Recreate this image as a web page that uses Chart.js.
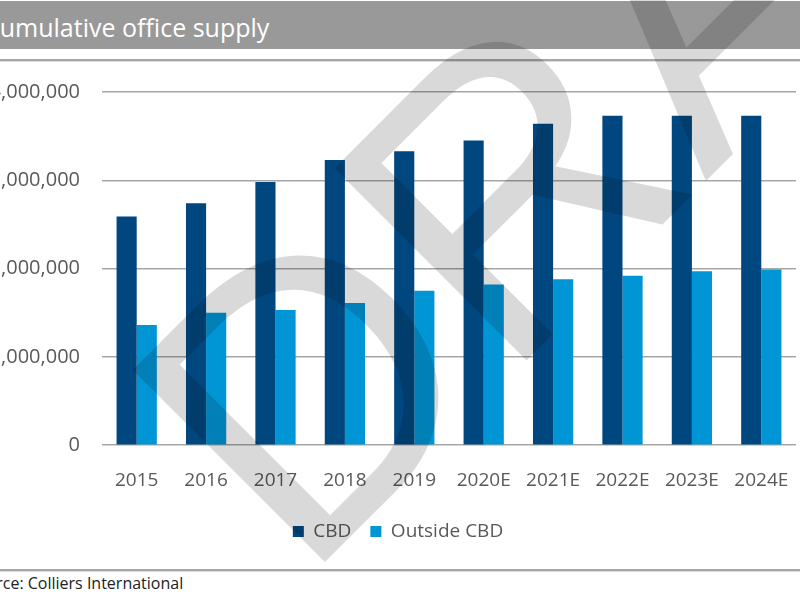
<!DOCTYPE html>
<html><head><meta charset="utf-8">
<script src="https://cdn.jsdelivr.net/npm/chart.js@4"></script>
<style>
html,body{margin:0;padding:0;width:800px;height:600px;overflow:hidden;background:#fff;font-family:"Open Sans",sans-serif}
#band{position:absolute;left:0;top:1px;width:800px;height:48px;background:#999999;overflow:hidden}
#title{position:absolute;left:-16px;top:9px;color:#fff;font-size:25px;white-space:nowrap;line-height:normal}
#line1{position:absolute;left:0;top:59px;width:800px;height:2px;background:#a6a6a6}
#line1b{position:absolute;left:0;top:61px;width:800px;height:1px;background:#dcdcdc}
#line2{position:absolute;left:0;top:569px;width:800px;height:2px;background:#a6a6a6}
#line2b{position:absolute;left:0;top:571px;width:800px;height:1px;background:#dcdcdc}
#source{position:absolute;left:-32px;top:572px;font-size:16px;color:#222;white-space:nowrap;line-height:normal}
#wrap{position:absolute;left:0;top:0;width:800px;height:600px;mix-blend-mode:multiply}
</style></head>
<body>
<div id="band"><div id="title">Cumulative office supply</div></div>
<div id="line1"></div><div id="line1b"></div>
<div id="line2"></div><div id="line2b"></div>
<div id="source">Source: Colliers International</div>
<div id="wrap"><canvas id="c" width="800" height="600"></canvas></div>
<script>
const categories = ["2015","2016","2017","2018","2019","2020E","2021E","2022E","2023E","2024E"];
const cbdValues = [2590000,2740000,2980000,3230000,3330000,3450000,3640000,3730000,3730000,3730000];
const outsideValues = [1360000,1500000,1530000,1610000,1750000,1820000,1880000,1920000,1970000,1990000];
const seriesNames = ["CBD","Outside CBD"];
const yTicks = [0,1000000,2000000,3000000,4000000];

const watermark = {
  id:'watermark',
  afterDraw(chart){
    const ctx = chart.ctx;
    ctx.save();
    ctx.globalCompositeOperation = 'multiply';
    ctx.fillStyle = '#d9d9d9';
    ctx.font = '395px "Liberation Sans", Arial, sans-serif';
    ctx.translate(302, 585);
    ctx.rotate(-Math.PI/4);
    ctx.textBaseline = 'alphabetic';
    ctx.textAlign = 'left';
    ctx.fillText('DRAFT', 0, 0);
    ctx.restore();
  }
};

new Chart(document.getElementById('c'), {
  type:'bar',
  data:{
    labels:categories,
    datasets:[
      {label:seriesNames[0], data:cbdValues, backgroundColor:'#00467f', barPercentage:1, categoryPercentage:0.58},
      {label:seriesNames[1], data:outsideValues, backgroundColor:'#0096d6', barPercentage:1, categoryPercentage:0.58}
    ]
  },
  options:{
    responsive:false,
    animation:false,
    layout:{padding:{left:0,right:4,top:92,bottom:49}},
    plugins:{
      legend:{position:'bottom',labels:{boxWidth:11,boxHeight:11,padding:19,color:'#595959',font:{family:'"Open Sans"',size:19}}},
      tooltip:{enabled:false}
    },
    scales:{
      x:{
        grid:{display:false,drawTicks:false},
        border:{display:false},
        afterFit(s){ s.height = s.height - 13; s.paddingLeft = 0; s.paddingRight = 0; },
        ticks:{color:'#595959',font:{family:'"Open Sans"',size:19},padding:24,maxRotation:0,autoSkip:false}
      },
      y:{
        min:0,max:4000000,
        afterBuildTicks(s){ s.ticks = yTicks.map(v=>({value:v})); },
        afterFit(s){ s.width = 102; },
        grid:{color:'#a6a6a6',lineWidth:1.5,drawTicks:false},
        border:{display:false},
        ticks:{color:'#595959',font:{family:'"Open Sans"',size:20},padding:22,
          callback:(v)=>v.toLocaleString('en-US')}
      }
    }
  },
  plugins:[watermark]
});
</script>
</body></html>
